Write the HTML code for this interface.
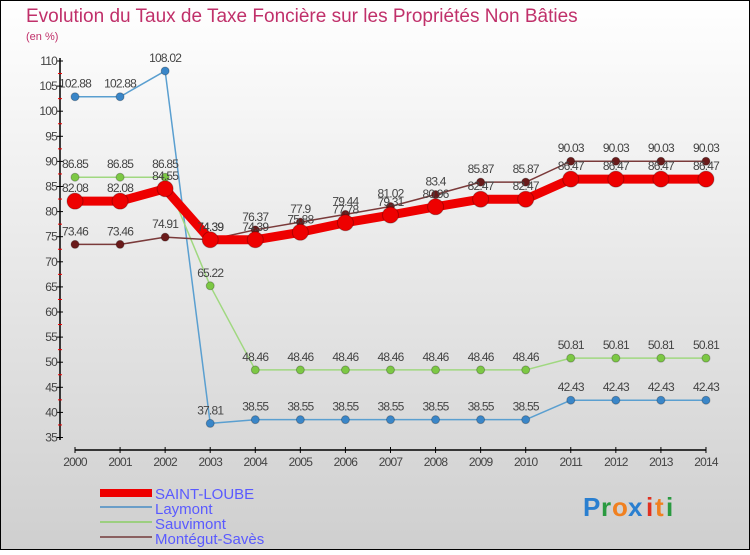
<!DOCTYPE html>
<html><head><meta charset="utf-8"><style>
body{margin:0;}
svg text{font-family:"Liberation Sans",sans-serif;}
</style></head><body>
<svg width="750" height="550" xmlns="http://www.w3.org/2000/svg">
<defs><linearGradient id="bg" x1="0" y1="0" x2="0" y2="1"><stop offset="0" stop-color="#ffffff"/><stop offset="1" stop-color="#cfcfcf"/></linearGradient></defs>
<rect x="0.5" y="0.5" width="749" height="549" fill="url(#bg)" stroke="#000"/>
<text x="26" y="22" font-size="19" fill="#c0306a">Evolution du Taux de Taxe Foncière sur les Propriétés Non Bâties</text>
<text x="26" y="40" font-size="11" fill="#c0306a">(en %)</text>
<g id="axes"></g>
<g id="series"></g>
<g id="legend">
<rect x="100" y="489" width="52" height="8" fill="#e00"/>
<text x="155" y="499" font-size="15" fill="#5a5aff">SAINT-LOUBE</text>
<rect x="100" y="506" width="52" height="2" fill="#6a9ec8"/>
<text x="155" y="514" font-size="15" fill="#5a5aff">Laymont</text>
<rect x="100" y="521" width="52" height="2" fill="#9ccf80"/>
<text x="155" y="529" font-size="15" fill="#5a5aff">Sauvimont</text>
<rect x="100" y="536" width="52" height="2" fill="#8a6060"/>
<text x="155" y="544" font-size="15" fill="#5a5aff">Montégut-Savès</text>
</g>
<g font-size="26" font-weight="bold">
<text x="583" y="516" fill="#2a7fd0">P</text><text x="601" y="516" fill="#2a9a40">r</text><text x="612" y="516" fill="#f08020">o</text><text x="628" y="516" fill="#2a7fd0">x</text><text x="646" y="516" fill="#e03020">i</text><text x="655" y="516" fill="#f08020">t</text><text x="666" y="516" fill="#2a9a40">i</text>
</g>
</svg>
<script>
const years=[2000,2001,2002,2003,2004,2005,2006,2007,2008,2009,2010,2011,2012,2013,2014];
const yTicks=[35,40,45,50,55,60,65,70,75,80,85,90,95,100,105,110];
const saintLoube=[82.08,82.08,84.55,74.39,74.39,75.88,77.78,79.31,80.96,82.47,82.47,86.47,86.47,86.47,86.47];
const laymont=[102.88,102.88,108.02,37.81,38.55,38.55,38.55,38.55,38.55,38.55,38.55,42.43,42.43,42.43,42.43];
const sauvimont=[86.85,86.85,86.85,65.22,48.46,48.46,48.46,48.46,48.46,48.46,48.46,50.81,50.81,50.81,50.81];
const montegut=[73.46,73.46,74.91,74.39,76.37,77.9,79.44,81.02,83.4,85.87,85.87,90.03,90.03,90.03,90.03];
const NS="http://www.w3.org/2000/svg";
const X=i=>75+i*45.07;
const Y=v=>61+(110-v)*5.02;
function mk(tag,attrs,parent){const e=document.createElementNS(NS,tag);for(const k in attrs)e.setAttribute(k,attrs[k]);parent.appendChild(e);return e;}
const ax=document.getElementById('axes');
const yl=mk('line',{x1:60,y1:58,x2:60,y2:440,stroke:'#000','stroke-width':1.5},ax);


yTicks.forEach(v=>{
  mk('line',{x1:57,x2:63,y1:Y(v),y2:Y(v),stroke:'#000'},ax);
  if(v<110)mk('line',{x1:58,x2:62,y1:Y(v+2.5),y2:Y(v+2.5),stroke:'#e00'},ax);
  const t=mk('text',{x:57,y:Y(v)+4,'font-size':12,fill:'#444','text-anchor':'end','letter-spacing':'-0.8'},ax);
  t.textContent=v;
  
  
});
const xl=mk('line',{x1:75,y1:450,x2:706,y2:450,stroke:'#000','stroke-width':1.5},ax);


years.forEach((y,i)=>{
  mk('line',{x1:X(i),x2:X(i),y1:447,y2:453,stroke:'#000'},ax);
  const t=mk('text',{x:X(i),y:466,'font-size':12,fill:'#444','text-anchor':'middle','letter-spacing':'-0.8'},ax);
  t.textContent=y;
  
  
});
const sg=document.getElementById('series');
function draw(data,name,color,w,r,dotFill){
  const g=mk('g',{},sg);
  
  
  const p=mk('polyline',{points:data.map((v,i)=>X(i)+','+Y(v)).join(' '),fill:'none',stroke:color,'stroke-width':w,'stroke-linejoin':'round'},g);
  
  
  data.forEach((v,i)=>{
    const c=mk('circle',{cx:X(i),cy:Y(v),r:r,fill:dotFill,stroke:'rgba(0,0,0,0.25)'},g);
    
    
    const t=mk('text',{x:X(i),y:Y(v)-9,'font-size':12,fill:'#444','text-anchor':'middle','letter-spacing':'-0.8'},g);
    t.textContent=v;
    
    
  });
}
draw(laymont,'laymont','#5a9fd0',1.5,4,'#3a86c8');
draw(sauvimont,'sauvimont','#a0d880',1.5,4,'#7cc844');
draw(montegut,'montegut-saves','#7a3a3a',1.5,4,'#6a1a1a');
draw(saintLoube,'saint-loube','#ee0000',9,8,'#ee0000');
</script>
</body></html>
